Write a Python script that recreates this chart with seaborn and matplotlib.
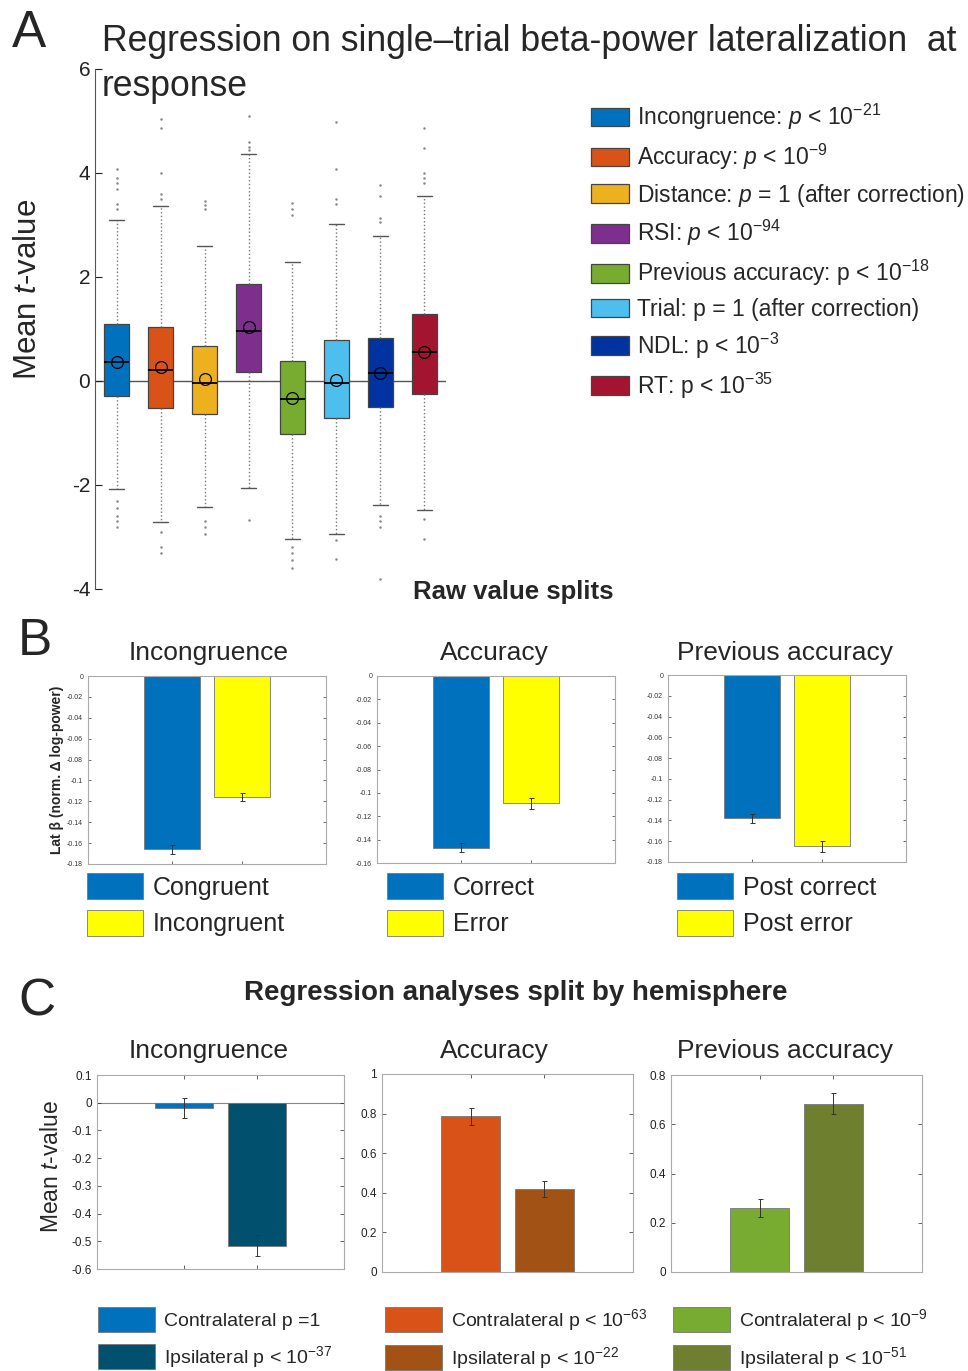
import numpy as np
import matplotlib
matplotlib.use('Agg')
import matplotlib.pyplot as plt
import seaborn as sns

# ---------------------------------- DATOS ----------------------------------

# Panel A: resumen de cajas (t medio por regresor)
regresores = ['Incongruence', 'Accuracy', 'Distance', 'RSI',
              'Previous accuracy', 'Trial', 'NDL', 'RT']
etiquetas_a = [r'Incongruence: $p$ < 10$^{-21}$',
               r'Accuracy: $p$ < 10$^{-9}$',
               r'Distance: $p$ = 1 (after correction)',
               r'RSI: $p$ < 10$^{-94}$',
               r'Previous accuracy: p < 10$^{-18}$',
               'Trial: p = 1 (after correction)',
               r'NDL: p < 10$^{-3}$',
               r'RT: p < 10$^{-35}$']
colores_a = ['#0072BD', '#D95319', '#EDB120', '#7E2F8E',
             '#77AC30', '#4DBEEE', '#0033A0', '#A2142F']
q3 = [1.09, 1.04, 0.67, 1.86, 0.38, 0.78, 0.82, 1.28]
q1 = [-0.28, -0.51, -0.63, 0.18, -1.01, -0.72, -0.50, -0.25]
medianas = [0.36, 0.21, -0.04, 0.96, -0.34, -0.03, 0.15, 0.56]
medias = [0.37, 0.26, 0.03, 1.03, -0.33, 0.02, 0.16, 0.55]
bigote_sup = [3.10, 3.37, 2.60, 4.36, 2.29, 3.01, 2.78, 3.56]
bigote_inf = [-2.08, -2.71, -2.43, -2.06, -3.03, -2.94, -2.39, -2.49]
atipicos = [
    [3.3, 3.4, 3.7, 3.8, 3.9, 4.07, -2.3, -2.45, -2.6, -2.7, -2.8],
    [3.5, 3.6, 4.0, 4.86, 5.04, -2.9, -3.2, -3.3],
    [3.3, 3.38, 3.46, -2.7, -2.8, -2.95],
    [4.45, 4.5, 4.6, 5.1, -2.68],
    [3.2, 3.3, 3.42, -3.2, -3.3, -3.45, -3.6],
    [3.4, 3.5, 4.07, 4.98, -3.05, -3.42],
    [3.05, 3.14, 3.56, 3.76, -2.6, -2.7, -2.8, -3.8],
    [3.8, 3.9, 4.0, 4.48, 4.87, -2.65, -3.04],
]

# Panel B: divisiones por valor bruto
titulos_b = ['Incongruence', 'Accuracy', 'Previous accuracy']
categorias_b = [['Congruent', 'Incongruent'], ['Correct', 'Error'], ['Post correct', 'Post error']]
valores_b = [[-0.166, -0.116], [-0.147, -0.109], [-0.138, -0.165]]
errores_b = [[0.004, 0.004], [0.004, 0.005], [0.004, 0.005]]
ymin_b = [-0.18, -0.16, -0.18]
colores_b = ['#0072BD', '#FFFF00']

# Panel C: por hemisferio
titulos_c = ['Incongruence', 'Accuracy', 'Previous accuracy']
categorias_c = [[r'Contralateral p =1', r'Ipsilateral p < 10$^{-37}$'],
                [r'Contralateral p < 10$^{-63}$', r'Ipsilateral p < 10$^{-22}$'],
                [r'Contralateral p < 10$^{-9}$', r'Ipsilateral p < 10$^{-51}$']]
valores_c = [[-0.019, -0.516], [0.786, 0.421], [0.260, 0.683]]
errores_c = [[0.036, 0.038], [0.044, 0.041], [0.038, 0.042]]
ylim_c = [(-0.6, 0.1), (0, 1), (0, 0.8)]
paso_c = [0.1, 0.2, 0.2]
colores_c = [['#0072BD', '#00506E'], ['#D95319', '#A35216'], ['#77AC30', '#6E8030']]

# ---------------------------------- ESTILO ----------------------------------
sns.set_style('white')
plt.rcParams['font.family'] = ['Liberation Sans', 'DejaVu Sans']
plt.rcParams['mathtext.fontset'] = 'custom'
plt.rcParams['mathtext.rm'] = 'Liberation Sans'
plt.rcParams['mathtext.it'] = 'Liberation Sans:italic'
plt.rcParams['mathtext.bf'] = 'Liberation Sans:bold'
plt.rcParams['axes.unicode_minus'] = False

W, H = 968, 1371
fig = plt.figure(figsize=(W / 100, H / 100), dpi=100)


def caja(x0, y0, x1, y1):
    # convierte pixeles (arriba-izquierda) a fracciones de figura
    return [x0 / W, 1 - y1 / H, (x1 - x0) / W, (y1 - y0) / H]


def formato(m):
    return '{:g}'.format(round(m, 2) + 0.0)


# ---------------------------------- PANEL A ----------------------------------
ax = fig.add_axes(caja(95, 69, 446, 589))
stats = []
for i in range(len(regresores)):
    stats.append(dict(label=regresores[i], q1=q1[i], q3=q3[i], med=medianas[i],
                      mean=medias[i], whislo=bigote_inf[i], whishi=bigote_sup[i],
                      fliers=atipicos[i]))
pos = np.arange(1, len(regresores) + 1)
bp = ax.bxp(stats, positions=pos, widths=0.57, capwidths=0.34, patch_artist=True,
            showmeans=True, meanline=False,
            boxprops=dict(edgecolor='#444444', linewidth=0.9),
            medianprops=dict(color='black', linewidth=1.3),
            whiskerprops=dict(color='#777777', linestyle=':', linewidth=1),
            capprops=dict(color='#555555', linewidth=1),
            flierprops=dict(marker='.', markersize=1.6, markerfacecolor='#888888',
                            markeredgecolor='#888888'),
            meanprops=dict(marker='o', markerfacecolor='none', markeredgecolor='black',
                           markersize=8.5, markeredgewidth=0.9))
for b, c in zip(bp['boxes'], colores_a):
    b.set_facecolor(c)
ax.axhline(0, color='#555555', linewidth=1, zorder=0.5)
ax.set_xlim(0.5, 8.5)
ax.set_ylim(-4, 6)
ax.set_yticks([-4, -2, 0, 2, 4, 6])
ax.set_xticks([])
for s in ['top', 'right', 'bottom']:
    ax.spines[s].set_visible(False)
ax.spines['left'].set_color('#555555')
ax.tick_params(axis='y', direction='in', left=True, length=5, labelsize=15, colors='#222222')
ax.patch.set_alpha(0)

fig.legend(bp['boxes'], etiquetas_a, loc='upper left', bbox_to_anchor=(591 / W, 1 - 102 / H),
           frameon=False, fontsize=16.5, handlelength=1.66, handleheight=0.87,
           handletextpad=0.35, labelspacing=0.42, borderpad=0, borderaxespad=0)

fig.text(12 / W, 1 - 47 / H, 'A', fontsize=37, va='baseline')
fig.text(102 / W, 1 - 51 / H, 'Regression on single\u2013trial beta-power lateralization  at',
         fontsize=25.6, va='baseline')
fig.text(102 / W, 1 - 96 / H, 'response', fontsize=25.6, va='baseline')
fig.text(28 / W, 1 - 289 / H, r'Mean $t$-value', fontsize=22.5, rotation=90, va='center', ha='center')
fig.text(513 / W, 1 - 592 / H, 'Raw value splits', fontsize=18.5, fontweight='bold', ha='center', va='center')

# ---------------------------------- PANEL B ----------------------------------
cajas_b = [(88, 676, 326, 864), (377, 676, 615, 863), (668, 675, 906, 862)]
x_titulos = [209, 494, 785]
x_leyenda_b = [87, 387, 677]
for k in range(3):
    ax = fig.add_axes(caja(*cajas_b[k]))
    sns.barplot(x=categorias_b[k], y=valores_b[k], hue=categorias_b[k], palette=colores_b,
                legend=False, errorbar=None, width=0.8, saturation=1,
                edgecolor='#777777', linewidth=0.6, ax=ax)
    ax.errorbar([0, 1], valores_b[k], yerr=errores_b[k], fmt='none', ecolor='#333333',
                elinewidth=0.7, capsize=1.8, capthick=0.7)
    ax.set_xlim(-1.2, 2.2)
    ax.set_ylim(ymin_b[k], 0)
    marcas = np.arange(ymin_b[k], 0.001, 0.02)
    ax.set_yticks(marcas)
    ax.set_yticklabels([formato(m) for m in marcas])
    ax.set_xticks([0, 1])
    ax.set_xticklabels([])
    ax.set_xlabel('')
    ax.tick_params(direction='in', top=True, right=True, left=True, bottom=True,
                   length=2.5, width=0.5, labelsize=5, colors='#333333')
    for s in ax.spines.values():
        s.set_color('#aaaaaa')
        s.set_linewidth(0.8)
    fig.text(x_titulos[k] / W, 1 - 653 / H, titulos_b[k], fontsize=19, ha='center', va='center')
    ax.legend(ax.patches[:2], categorias_b[k], loc='upper left',
              bbox_to_anchor=(x_leyenda_b[k] / W, 1 - 873 / H), bbox_transform=fig.transFigure,
              frameon=False, fontsize=18, handlelength=2.24, handleheight=1.25,
              handletextpad=0.4, labelspacing=0.4, borderpad=0, borderaxespad=0)

fig.text(18 / W, 1 - 655 / H, 'B', fontsize=37, va='baseline')
fig.text(57 / W, 1 - 770 / H, 'Lat \u03b2 (norm. \u0394 log-power)', fontsize=10, fontweight='bold',
         rotation=90, va='center', ha='center')

# ---------------------------------- PANEL C ----------------------------------
cajas_c = [(97, 1075, 344, 1269), (382, 1074, 633, 1272), (671, 1075, 922, 1272)]
x_leyenda_c = [98, 385, 673]
for k in range(3):
    ax = fig.add_axes(caja(*cajas_c[k]))
    sns.barplot(x=categorias_c[k], y=valores_c[k], hue=categorias_c[k], palette=colores_c[k],
                legend=False, errorbar=None, width=0.8, saturation=1,
                edgecolor='#777777', linewidth=0.6, ax=ax)
    ax.errorbar([0, 1], valores_c[k], yerr=errores_c[k], fmt='none', ecolor='#333333',
                elinewidth=0.7, capsize=1.8, capthick=0.7)
    if ylim_c[k][0] < 0:
        ax.axhline(0, color='#888888', linewidth=0.8, zorder=0.5)
    ax.set_xlim(-1.2, 2.2)
    ax.set_ylim(*ylim_c[k])
    marcas = np.arange(ylim_c[k][0], ylim_c[k][1] + 0.001, paso_c[k])
    ax.set_yticks(marcas)
    ax.set_yticklabels([formato(m) for m in marcas])
    ax.set_xticks([0, 1])
    ax.set_xticklabels([])
    ax.set_xlabel('')
    ax.tick_params(direction='in', top=True, right=True, left=True, bottom=True,
                   length=3, width=0.5, labelsize=8.5, colors='#222222')
    for s in ax.spines.values():
        s.set_color('#aaaaaa')
        s.set_linewidth(0.8)
    fig.text(x_titulos[k] / W, 1 - 1051 / H, titulos_c[k], fontsize=19, ha='center', va='center')
    ax.legend(ax.patches[:2], categorias_c[k], loc='upper left',
              bbox_to_anchor=(x_leyenda_c[k] / W, 1 - 1307 / H), bbox_transform=fig.transFigure,
              frameon=False, fontsize=14, handlelength=2.95, handleheight=1.6,
              handletextpad=0.42, labelspacing=0.62, borderpad=0, borderaxespad=0)

fig.text(18 / W, 1 - 1015 / H, 'C', fontsize=37, va='baseline')
fig.text(516 / W, 1 - 993 / H, 'Regression analyses split by hemisphere', fontsize=20,
         fontweight='bold', ha='center', va='center')
fig.text(52 / W, 1 - 1166 / H, r'Mean $t$-value', fontsize=16.5, rotation=90, va='center', ha='center')

fig.savefig('out.png', dpi=100)
